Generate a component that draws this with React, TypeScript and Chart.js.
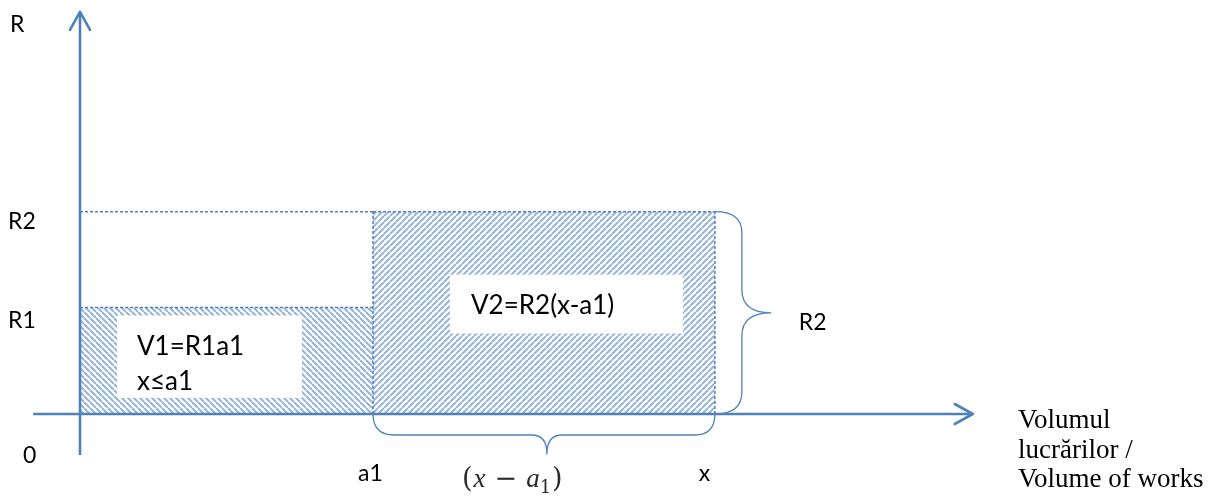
import React, { useEffect, useRef } from "react";
import { Chart, registerables } from "chart.js";

Chart.register(...registerables);

// ---- data (diagram values, in abstract units) ----
const A1 = 3; // a1 on the volume axis
const XV = 6.5; // x on the volume axis
const R1 = 1; // rate level R1
const R2 = 1.9; // rate level R2
const xAxisRange = [-0.48, 9.14];
const yAxisRange = [-0.385, 3.775];
const xTickValues = [0, A1, XV];
const xTickLabels = ["0", "a1", "x"];
const yTickValues = [R1, R2];
const yTickLabels = ["R1", "R2"];
const yAxisTitle = "R";
const xAxisTitle = ["Volumul", "lucrărilor /", "Volume of works"];
const block1Labels = ["V1=R1a1", "x≤a1"];
const block2Labels = ["V2=R2(x-a1)"];
const braceRightLabel = "R2";

const BLUE = "#4f81bd";
const HATCH = "rgba(79,129,189,0.58)";
const SANS = "Lato, 'Noto Sans', sans-serif";

function makePattern(dir: "back" | "fwd") {
  const s = 6;
  const c = document.createElement("canvas");
  c.width = s;
  c.height = s;
  const g = c.getContext("2d")!;
  g.strokeStyle = HATCH;
  g.lineWidth = 2.1;
  for (const o of [-s, 0, s]) {
    g.beginPath();
    if (dir === "back") {
      g.moveTo(o, 0);
      g.lineTo(o + s, s);
    } else {
      g.moveTo(o, s);
      g.lineTo(o + s, 0);
    }
    g.stroke();
  }
  return g.createPattern(c, "repeat")!;
}

const diagramPlugin = {
  id: "diagram",
  afterDatasetsDraw(chart: any) {
    const { ctx } = chart;
    const xs = chart.scales.x;
    const ys = chart.scales.y;
    const px = (v: number) => xs.getPixelForValue(v);
    const py = (v: number) => ys.getPixelForValue(v);
    ctx.save();

    // arrowheads
    ctx.strokeStyle = BLUE;
    ctx.lineWidth = 2.6;
    ctx.lineCap = "round";
    ctx.lineJoin = "round";
    const ty = { x: px(0), y: py(yAxisRange[1]) };
    ctx.beginPath();
    ctx.moveTo(ty.x - 10, ty.y + 18);
    ctx.lineTo(ty.x, ty.y);
    ctx.lineTo(ty.x + 10, ty.y + 18);
    ctx.stroke();
    const tx = { x: px(xAxisRange[1]), y: py(0) };
    ctx.beginPath();
    ctx.moveTo(tx.x - 18, tx.y - 10);
    ctx.lineTo(tx.x, tx.y);
    ctx.lineTo(tx.x - 18, tx.y + 10);
    ctx.stroke();

    // braces
    ctx.lineWidth = 1.3;
    // bottom brace spanning a1..x
    {
      const L = px(A1), R = px(XV), M = (L + R) / 2 + 3;
      const y0 = py(0), yb = y0 + 21, yt = y0 + 40;
      ctx.beginPath();
      ctx.moveTo(L, y0);
      ctx.quadraticCurveTo(L, yb, L + 21, yb);
      ctx.lineTo(M - 15, yb);
      ctx.quadraticCurveTo(M, yb, M, yt);
      ctx.quadraticCurveTo(M, yb, M + 15, yb);
      ctx.lineTo(R - 20, yb);
      ctx.quadraticCurveTo(R, yb, R, y0);
      ctx.stroke();
    }
    // right brace spanning 0..R2
    {
      const T = py(R2), B = py(0), M = (T + B) / 2;
      const x0 = px(XV), xb = x0 + 27, xt = x0 + 56;
      ctx.beginPath();
      ctx.moveTo(x0, T);
      ctx.quadraticCurveTo(xb, T, xb, T + 21);
      ctx.lineTo(xb, M - 23);
      ctx.quadraticCurveTo(xb, M, xt, M);
      ctx.quadraticCurveTo(xb, M, xb, M + 23);
      ctx.lineTo(xb, B - 22);
      ctx.quadraticCurveTo(xb, B, x0, B);
      ctx.stroke();
    }

    // white label boxes
    ctx.fillStyle = "#ffffff";
    const b1 = { l: px(0) + 37, t: py(R1) + 8, r: px(0) + 222, b: py(0) - 16 };
    ctx.fillRect(b1.l, b1.t, b1.r - b1.l, b1.b - b1.t);
    const b2 = { l: px(A1) + 77, t: py(R2) + 63, r: px(XV) - 32, b: py(R1) + 26 };
    ctx.fillRect(b2.l, b2.t, b2.r - b2.l, b2.b - b2.t);

    // block texts
    ctx.fillStyle = "#000";
    ctx.textAlign = "left";
    ctx.textBaseline = "alphabetic";
    ctx.font = `26px ${SANS}`;
    ctx.fillText(block1Labels[0], b1.l + 20, b1.t + 39);
    ctx.save();
    ctx.beginPath();
    ctx.rect(b1.l, b1.t, b1.r - b1.l, b1.b - b1.t);
    ctx.clip();
    ctx.fillText(block1Labels[1], b1.l + 20, b1.t + 74);
    ctx.restore();
    ctx.fillText(block2Labels[0], b2.l + 21, b2.t + 39);

    // axis labels
    ctx.font = `23px ${SANS}`;
    ctx.textBaseline = "middle";
    ctx.fillText(yAxisTitle, 10, py(yAxisRange[1]) + 13);
    yTickValues.forEach((v, i) => {
      ctx.fillText(yTickLabels[i], 8, py(v) + (i === 0 ? 13 : 10));
    });
    ctx.textBaseline = "alphabetic";
    xTickValues.forEach((v, i) => {
      const xPos = i === 0 ? px(v) - 57 : i === 1 ? px(v) - 15 : px(v) - 16;
      const yPos = i === 0 ? py(0) + 49 : py(0) + 67;
      ctx.fillText(xTickLabels[i], xPos, yPos);
    });
    ctx.textBaseline = "middle";
    ctx.fillText(braceRightLabel, px(XV) + 84, (py(R2) + py(0)) / 2 + 10);

    // (x − a1) math label
    {
      let cx = px(A1) + 89;
      const by = py(0) + 73;
      ctx.textBaseline = "alphabetic";
      ctx.fillStyle = "#2b2b2b";
      const up = "27px 'DejaVu Serif', serif";
      const it = "italic 27px 'Liberation Serif', serif";
      const parts: [string, string, number, number][] = [
        ["(", up, 0, 1],
        ["x", it, 0, 9],
        ["−", up, 0, 9],
        ["a", it, 0, 0],
        ["1", "18px 'DejaVu Serif', serif", 6, 1],
        [")", up, 0, 0],
      ];
      for (const [t, f, dy, gap] of parts) {
        ctx.font = f;
        ctx.fillText(t, cx, by + dy);
        cx += ctx.measureText(t).width + gap;
      }
    }

    // x axis title (serif)
    ctx.fillStyle = "#000";
    ctx.font = "27px 'Liberation Serif', serif";
    ctx.textBaseline = "alphabetic";
    xAxisTitle.forEach((t, i) => {
      ctx.fillText(t, 1018, py(0) + 14 + i * 29.5);
    });

    ctx.restore();
  },
};

export default function App() {
  const ref = useRef<HTMLCanvasElement | null>(null);
  useEffect(() => {
    const canvas = ref.current;
    if (!canvas) return;
    const back = makePattern("back");
    const fwd = makePattern("fwd");
    const dash = [3, 2];
    const line = (pts: { x: number; y: number }[], extra: any) => ({
      data: pts,
      showLine: true,
      pointRadius: 0,
      borderColor: BLUE,
      borderWidth: 1.5,
      fill: false,
      ...extra,
    });
    const chart = new Chart(canvas, {
      type: "scatter",
      data: {
        datasets: [
          line([{ x: 0, y: R1 }, { x: A1, y: R1 }], { fill: "origin", backgroundColor: back, borderDash: dash, order: 10 }),
          line([{ x: A1, y: R2 }, { x: XV, y: R2 }], { fill: "origin", backgroundColor: fwd, borderDash: dash, order: 9 }),
          line([{ x: 0, y: R2 }, { x: A1, y: R2 }], { borderDash: dash, order: 5 }),
          line([{ x: A1, y: 0 }, { x: A1, y: R2 }], { borderDash: dash, order: 5 }),
          line([{ x: XV, y: 0 }, { x: XV, y: R2 }], { borderDash: dash, order: 5 }),
          line([{ x: xAxisRange[0], y: 0 }, { x: xAxisRange[1], y: 0 }], { borderWidth: 2.6, order: 1 }),
          line([{ x: 0, y: yAxisRange[0] }, { x: 0, y: yAxisRange[1] }], { borderWidth: 2.6, order: 1 }),
        ],
      },
      options: {
        animation: false,
        responsive: true,
        maintainAspectRatio: false,
        layout: { padding: 0 },
        plugins: { legend: { display: false }, tooltip: { enabled: false } },
        scales: {
          x: { type: "linear", min: -0.8191, max: 11.559, display: false },
          y: { type: "linear", min: -0.7793, max: 3.8873, display: false },
        },
      },
      plugins: [diagramPlugin],
    });
    return () => chart.destroy();
  }, []);
  return (
    <div style={{ position: "fixed", left: 0, top: 0, width: 1209, height: 497, background: "#fff" }}>
      <canvas ref={ref} />
    </div>
  );
}
